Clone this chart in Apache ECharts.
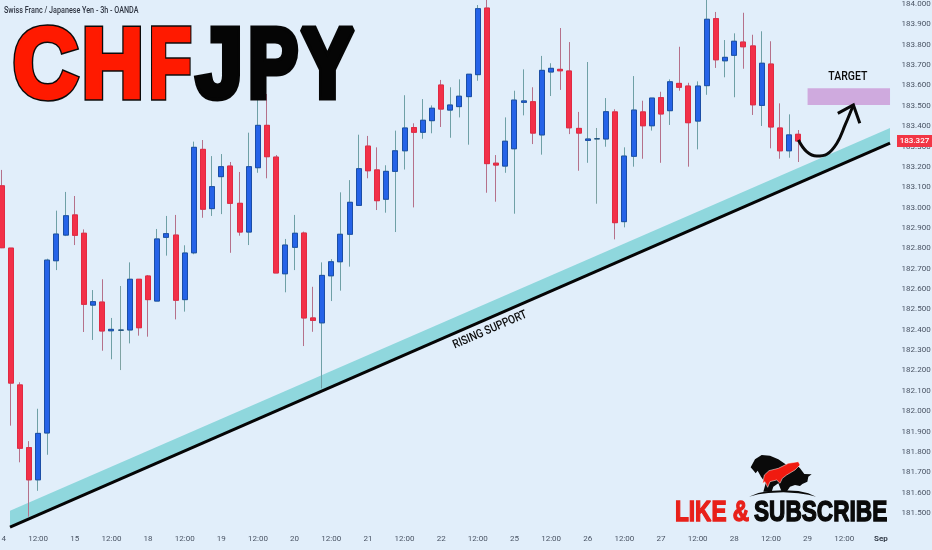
<!DOCTYPE html>
<html><head><meta charset="utf-8">
<style>html,body{margin:0;padding:0;background:#e1eefa}#c{width:932px;height:550px}</style>
<script src="https://cdn.jsdelivr.net/npm/echarts@6/dist/echarts.min.js"></script>
</head><body><div id="c"></div>
<script>
const dayLabels=['14','15','18','19','20','21','22','25','26','27','28','29'];
const opens=[183.107,182.801,182.129,181.821,181.663,181.893,182.739,182.865,182.964,182.874,182.521,182.536,182.395,182.398,182.399,182.648,182.664,182.541,182.854,182.865,182.548,182.778,183.286,182.995,183.152,183.204,183.021,182.880,183.196,183.404,183.248,182.675,182.805,182.875,182.458,182.434,182.665,182.734,182.869,183.011,183.302,183.185,183.041,183.178,183.279,183.393,183.370,183.427,183.602,183.479,183.496,183.545,183.653,183.980,183.218,183.204,183.289,183.517,183.520,183.357,183.666,183.679,183.671,183.389,183.330,183.338,183.337,183.470,182.931,183.252,183.470,183.402,183.540,183.476,183.610,183.597,183.425,183.599,183.928,183.721,183.748,183.813,183.794,183.502,183.705,183.391,183.279,183.360];
const closes=[182.803,182.138,181.818,181.663,181.891,182.742,182.870,182.960,182.864,182.525,182.538,182.394,182.402,182.398,182.648,182.410,182.548,182.846,182.872,182.545,182.777,183.296,182.992,183.103,183.201,183.021,182.880,183.201,183.404,183.250,182.679,182.816,182.874,182.458,182.446,182.667,182.734,182.869,183.026,183.191,183.181,183.034,183.178,183.279,183.391,183.370,183.429,183.488,183.484,183.504,183.547,183.655,183.977,183.216,183.209,183.326,183.528,183.524,183.366,183.674,183.684,183.672,183.392,183.366,183.337,183.338,183.471,182.926,183.253,183.479,183.402,183.538,183.460,183.618,183.591,183.417,183.597,183.925,183.726,183.738,183.817,183.790,183.505,183.709,183.396,183.279,183.357,183.327];
const lows=[182.801,181.929,181.749,181.482,181.609,181.786,182.693,182.860,182.816,182.389,182.350,182.297,182.255,182.202,182.333,182.371,182.366,182.541,182.764,182.451,182.489,182.771,182.950,182.959,182.968,182.778,182.862,182.816,183.171,183.144,182.679,182.584,182.693,182.320,182.390,182.112,182.541,182.592,182.710,183.011,183.144,182.988,182.975,182.880,183.187,183.001,183.338,183.365,183.396,183.343,183.443,183.309,183.623,183.073,183.029,183.171,182.970,183.453,183.312,183.260,183.548,183.578,183.361,183.181,183.220,183.019,183.299,182.844,182.903,183.201,183.240,183.378,183.220,183.406,183.574,183.201,183.286,183.554,183.686,183.640,183.542,183.682,183.455,183.401,183.291,183.240,183.245,183.224];
const highs=[183.185,182.801,182.142,181.853,182.012,182.749,182.985,183.077,183.057,182.893,182.595,182.648,182.458,182.615,182.731,182.648,182.669,182.895,182.959,182.964,182.815,183.324,183.332,183.253,183.263,183.224,183.175,183.368,183.553,183.558,183.258,182.846,182.964,182.882,182.611,182.731,182.747,183.075,183.135,183.358,183.352,183.296,183.208,183.378,183.552,183.414,183.533,183.502,183.627,183.591,183.630,183.655,183.995,184.034,183.258,183.443,183.574,183.679,183.591,183.745,183.709,183.882,183.813,183.470,183.715,183.391,183.538,183.483,183.296,183.646,183.525,183.538,183.569,183.630,183.790,183.613,183.620,184.029,183.961,183.823,183.856,183.957,183.849,183.866,183.817,183.512,183.458,183.381];
const supportLine=[[0.93,181.431],[97.0,183.317]];
const supportBandTop=[[0.93,181.511],[97.0,183.391]];
const targetZone=[[88.0,183.586],[97.0,183.504]];
const targetPoint=[92.4,183.64];
const arrowCurve=[[87.0,183.332],[87.9,183.275],[89.0,183.253],[90.1,183.262],[91.2,183.316],[92.1,183.406],[93.0,183.504]];
const arrowHead=[[91.3,183.463],[93.0,183.504],[93.7,183.414]];
const lastPrice=[183.327];

const categories=[];
dayLabels.forEach(d=>categories.push(d,'','','','12:00','','',''));
categories.push('Sep','');
const candles=opens.map((o,i)=>[o,closes[i],lows[i],highs[i]]);
const bodies=opens.map((o,i)=>[o,closes[i],Math.min(o,closes[i]),Math.max(o,closes[i])]);
const sans='Roboto,"Liberation Sans",sans-serif';
const heavy='bold 99px "Liberation Sans",sans-serif';
const labelColor='#4a5464';
const chart=echarts.init(document.getElementById('c'),null,{renderer:'canvas'});
function glyph(t,x,sx,fill,stroke,lw,z){return {type:'text',z:z,x:x,y:70,scaleX:sx,style:{text:t,x:0,y:0,align:'left',verticalAlign:'middle',font:heavy,fill:fill,stroke:stroke,lineWidth:lw,lineJoin:'round'}};}
function redLetter(t,x,sx){return [glyph(t,x,sx,'#0b0b0b','#0b0b0b',7.5,100),glyph(t,x,sx,'#ff1a00','#ff1a00',4.5,101)];}
function blackLetter(t,x,sx){return [glyph(t,x,sx,'#050505','#050505',7,100)];}
function pts(s){return s.trim().split(/\s+/).map(p=>p.split(',').map(Number));}
chart.setOption({
 animation:false,
 backgroundColor:'#e1eefa',
 grid:{left:-3.08,top:-16.36,height:549.72,width:897.68,containLabel:false,outerBoundsMode:'none'},
 xAxis:[
  {type:'category',data:categories,boundaryGap:true,axisLine:{show:false},axisTick:{show:false},splitLine:{show:false},
   axisLabel:{interval:0,margin:2,fontSize:8,fontFamily:sans,color:labelColor,hideOverlap:false,
     formatter:v=>v==='Sep'?'{b|Sep}':v,rich:{b:{fontWeight:'bold',fontSize:8,fontFamily:sans,color:'#333b48'}}}},
  {type:'value',min:-0.5,max:97.5,show:false,splitLine:{show:false}}
 ],
 yAxis:{type:'value',position:'right',min:181.4,max:184.1,interval:0.1,scale:true,axisLine:{show:false},axisTick:{show:false},splitLine:{show:false},
   axisLabel:{margin:7,fontSize:8,fontFamily:sans,color:labelColor,showMinLabel:false,showMaxLabel:false,formatter:v=>v.toFixed(3)}},
 graphic:{elements:[
  {type:'text',z:100,x:4,y:11,scaleX:0.8,style:{text:'Swiss Franc / Japanese Yen - 3h - OANDA',x:0,y:0,font:'500 9px '+sans,fill:'#2f3542',verticalAlign:'middle'}},
  ...redLetter('C',13,0.91),...redLetter('H',82,0.86),...redLetter('F',149,0.70),
  ...blackLetter('J',196,0.85),...blackLetter('P',248,0.76),...blackLetter('Y',301,0.80),
  {type:'text',z:100,x:490,y:330,rotation:0.41,scaleX:0.84,style:{text:'RISING SUPPORT',x:0,y:0,font:'500 12px '+sans,fill:'#0b0b0b',align:'center',verticalAlign:'middle'}},
  {type:'group',z:100,x:745,y:450,scaleX:1/3,scaleY:1/3,children:[
   {type:'polygon',z:100,shape:{points:pts('17,52 30,28 50,15 75,17 100,28 125,45 150,40 165,55 178,72 200,73 190,80 187,95 172,102 165,108 150,105 135,110 125,125 110,125 100,100 85,110 80,125 55,125 62,100 48,80 38,62 32,70 26,62')},style:{fill:'#0a0a0a'}},
   {type:'polygon',z:101,shape:{points:pts('53,100 58,75 72,62 100,55 130,40 160,35 165,45 150,60 125,75 112,85 105,100 95,90 75,95 68,112 60,95')},style:{fill:'#f01a10',stroke:'#fff',lineWidth:1.5}},
   {type:'polygon',z:100,shape:{points:pts('12,140 40,129 70,123 115,121 160,123 190,130 213,140 190,134 160,130 115,127 70,129 40,133')},style:{fill:'#0a0a0a'}}
  ]},
  {type:'text',z:100,x:675,y:513,scaleX:0.78,style:{text:'LIKE &',x:0,y:0,font:'bold 29px "Liberation Sans",sans-serif',fill:'#e8201a',stroke:'#e8201a',lineWidth:1.4,verticalAlign:'middle'}},
  {type:'text',z:100,x:754,y:513,scaleX:0.78,style:{text:'SUBSCRIBE',x:0,y:0,font:'bold 29px "Liberation Sans",sans-serif',fill:'#0a0a0a',stroke:'#0a0a0a',lineWidth:1.4,verticalAlign:'middle'}}
 ]},
 series:[
  {name:'band',type:'custom',xAxisIndex:1,yAxisIndex:0,z:1,data:[0],silent:true,
   renderItem:(p,api)=>({type:'polygon',shape:{points:[supportBandTop[0],supportBandTop[1],supportLine[1],supportLine[0]].map(v=>api.coord(v))},style:{fill:'#8fd7dd'}})},
  {name:'wicks',type:'candlestick',data:candles,barWidth:5.5,z:2,
   itemStyle:{color:'rgba(0,0,0,0)',color0:'rgba(0,0,0,0)',borderColor:'#6fa0a6',borderColor0:'#b5718a',borderColorDoji:'#7fa3a3',borderWidth:1}},
  {name:'bodies',type:'candlestick',data:bodies,barWidth:5.5,z:3,
   itemStyle:{color:'#2563e8',color0:'#f23048',borderColor:'#1b4ea6',borderColor0:'#e12a42',borderColorDoji:'#1b4e80',borderWidth:1}},
  {name:'support',type:'line',xAxisIndex:1,yAxisIndex:0,z:5,data:supportLine,symbol:'none',lineStyle:{color:'#050505',width:3},silent:true},
  {name:'target',type:'custom',xAxisIndex:1,yAxisIndex:0,z:4,data:[0],silent:true,
   renderItem:(p,api)=>{const a=api.coord(targetZone[0]),b=api.coord(targetZone[1]);return {type:'rect',shape:{x:a[0],y:a[1],width:b[0]-a[0],height:b[1]-a[1]},style:{fill:'#cfaade'}};}},
  {name:'curve',type:'line',xAxisIndex:1,yAxisIndex:0,z:5,data:arrowCurve,smooth:0.4,symbol:'none',lineStyle:{color:'#0a0a0a',width:3},silent:true},
  {name:'head',type:'line',xAxisIndex:1,yAxisIndex:0,z:5,data:arrowHead,symbol:'none',lineStyle:{color:'#0a0a0a',width:3,join:'miter'},silent:true},
  {name:'targetText',type:'custom',xAxisIndex:1,yAxisIndex:0,z:6,data:[0],silent:true,
   renderItem:(p,api)=>{const c=api.coord(targetPoint);return {type:'text',x:c[0],y:c[1],scaleX:0.84,style:{text:'TARGET',x:0,y:0,font:'500 12.5px '+sans,fill:'#0b0b0b',align:'center',verticalAlign:'middle'}};}},
  {name:'last',type:'custom',xAxisIndex:1,yAxisIndex:0,z:20,data:[0],silent:true,clip:false,
   renderItem:(p,api)=>{const c=api.coord([97.5,lastPrice[0]]);return {type:'group',children:[
     {type:'rect',shape:{x:c[0]+2.4,y:c[1]-6,width:35,height:12},style:{fill:'#f23645'},z2:50},
     {type:'text',x:c[0]+19.9,y:c[1],z2:51,style:{text:lastPrice[0].toFixed(3),x:0,y:0,font:'500 8px '+sans,fill:'#fff',align:'center',verticalAlign:'middle'}}]};}}
 ]
});
</script></body></html>
